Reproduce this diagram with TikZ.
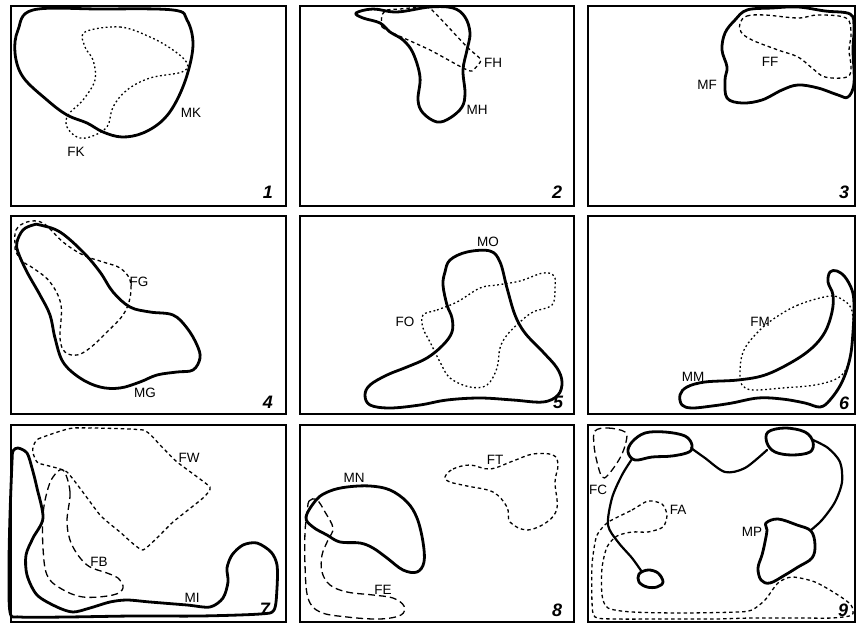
\documentclass[tikz,border=0pt]{standalone}
\usepackage{fontspec}
\setmainfont{Liberation Sans}
\begin{document}
\begin{tikzpicture}[x=1pt,y=-1pt,
  panel/.style={line width=1.3pt},
  male/.style={line width=2.8pt, line join=round, line cap=round},
  maleline/.style={line width=2.2pt, line cap=round},
  femdot/.style={line width=1.3pt, dash pattern=on 1.8pt off 2.6pt},
  femdash/.style={line width=1.3pt, dash pattern=on 3.5pt off 3pt},
  femlong/.style={line width=1.3pt, dash pattern=on 7pt off 4pt},
  lab/.style={font=\fontsize{13.5}{13.5}\selectfont, inner sep=0pt},
  num/.style={font=\fontsize{18}{18}\selectfont\bfseries\itshape, inner sep=0pt},
  sm/.style={smooth cycle, tension=0.6}]
\useasboundingbox (0,0) rectangle (858,628);
\fill[white] (0,0) rectangle (858,628);
% panels
\draw[panel] (11,6) rectangle (286,206);
\draw[panel] (300,6) rectangle (574,206);
\draw[panel] (588,6) rectangle (855,206);
\draw[panel] (11,216) rectangle (286,414);
\draw[panel] (300,216) rectangle (574,414);
\draw[panel] (588,216) rectangle (855,414);
\draw[panel] (11,425) rectangle (286,622);
\draw[panel] (300,425) rectangle (574,622);
\draw[panel] (588,425) rectangle (855,622);

% ---------- panel 1
\draw[male] plot[sm] coordinates {(33,10) (100,9) (173,10) (187,20) (193,43) (188,72) (177,100) (163,120) (143,133) (122,137) (103,132) (87,123) (67,115) (47,100) (23,77) (15,53) (18,30)};
\draw[femdot] plot[sm] coordinates {(85,32) (120,27) (150,37) (173,50) (187,63) (182,72) (150,78) (127,90) (113,107) (107,127) (90,137) (77,137) (67,127) (68,115) (83,100) (95,80) (93,60) (85,47)};
\node[lab] (MK) at (191,113) {MK};
\node[lab] (FK) at (76,152) {FK};
\node[num] (n1) at (268,192) {1};

% ---------- panel 2
\draw[male] plot[sm] coordinates {(356,13) (373,9) (397,12) (430,7) (453,8) (465,17) (470,33) (467,50) (463,70) (465,93) (462,107) (450,118) (437,122) (423,113) (418,100) (420,77) (413,53) (403,40) (390,32) (380,23) (363,18)};
\draw[femdash] plot[smooth cycle, tension=0.3] coordinates {(382,15) (382,27) (397,35) (430,50) (463,68) (472,71) (481,60) (467,47) (437,15) (427,7) (400,9) (387,10)};
\node[lab] (FH) at (493,63) {FH};
\node[lab] (MH) at (477,110) {MH};
\node[num] (n2) at (557,192) {2};

% ---------- panel 3
\draw[male] plot[sm] coordinates {(747,10) (772,8) (798,7) (825,11) (850,14) (854,27) (853,50) (854,83) (848,97) (838,95) (818,88) (798,85) (782,90) (762,100) (742,103) (727,98) (725,80) (727,67) (722,50) (725,33) (735,20)};
\draw[femdash] plot[sm] coordinates {(740,23) (747,16) (765,15) (798,18) (818,15) (846,18) (851,33) (849,50) (851,67) (847,77) (825,77) (812,68) (798,57) (778,50) (752,40) (741,32)};
\node[lab] (FF) at (770,62) {FF};
\node[lab] (MF) at (707,85) {MF};
\node[num] (n3) at (844,192) {3};

% ---------- panel 4
\draw[male] plot[sm] coordinates {(40,225) (60,232) (83,252) (100,272) (113,292) (130,307) (150,312) (173,315) (187,328) (197,345) (200,358) (193,370) (177,372) (157,375) (140,382) (120,388) (100,387) (80,378) (63,362) (55,338) (50,315) (40,295) (27,272) (18,252) (17,242) (23,230) (33,225)};
\draw[femdash] plot[sm] coordinates {(15,245) (16,230) (27,222) (43,223) (63,242) (83,255) (103,262) (120,268) (130,280) (130,298) (123,315) (107,332) (90,348) (77,355) (65,352) (60,338) (61,305) (50,282) (33,268) (23,262) (16,252)};
\node[lab] (FG) at (139,282) {FG};
\node[lab] (MG) at (145,393) {MG};
\node[num] (n4) at (268,402) {4};

% ---------- panel 5
\draw[male] plot[sm] coordinates {(450,260) (467,252) (490,251) (500,262) (507,288) (515,315) (525,333) (543,352) (557,368) (562,382) (558,395) (543,402) (513,400) (480,398) (447,400) (420,405) (390,408) (370,405) (365,395) (370,385) (387,375) (407,367) (427,358) (443,345) (452,332) (452,318) (447,305) (443,285) (445,272)};
\draw[femdot] plot[sm] coordinates {(423,315) (437,310) (457,302) (480,288) (497,285) (520,281) (543,273) (554,276) (555,288) (552,305) (533,312) (520,322) (507,335) (500,348) (497,368) (487,385) (470,387) (450,378) (440,362) (430,342) (423,328)};
\node[lab] (MO) at (488,242) {MO};
\node[lab] (FO) at (405,322) {FO};
\node[num] (n5) at (558,402) {5};

% ---------- panel 6
\draw[male] plot[sm] coordinates {(830,272) (837,271) (845,277) (852,290) (854,305) (853,332) (850,358) (842,382) (830,400) (820,407) (805,403) (782,399) (758,398) (732,403) (712,406) (692,408) (682,405) (680,395) (687,387) (705,382) (738,380) (765,375) (792,362) (812,348) (825,332) (832,312) (833,295) (828,282)};
\draw[femdot] plot[sm] coordinates {(830,296) (798,305) (772,320) (755,335) (743,352) (740,372) (742,385) (753,390) (782,388) (815,385) (838,378) (848,365) (852,345) (853,322) (851,308) (843,300)};
\node[lab] (FM) at (760,322) {FM};
\node[lab] (MM) at (693,377) {MM};
\node[num] (n6) at (844,403) {6};

% ---------- panel 7
\draw[male] plot[smooth cycle, tension=0.5] coordinates {(18,448) (13,451) (12,462) (10,515) (9,565) (10,612) (20,617) (67,617) (133,616) (200,616) (260,614) (274,610) (277,588) (277,565) (271,552) (257,543) (243,545) (232,555) (227,568) (228,582) (223,598) (210,607) (187,605) (150,602) (127,600) (110,602) (90,608) (73,612) (57,607) (37,595) (27,575) (26,555) (33,538) (43,518) (37,488) (32,468) (27,453)};
\draw[femdash] plot[smooth cycle, tension=0.25] coordinates {(33,447) (38,439) (73,428) (143,430) (160,445) (177,462) (210,487) (203,498) (173,522) (143,550) (120,532) (100,515) (67,472) (38,463) (33,453)};
\draw[femlong] plot[sm] coordinates {(63,470) (70,492) (67,522) (72,545) (87,565) (107,573) (118,578) (123,588) (113,595) (83,597) (60,588) (47,575) (43,548) (43,515) (47,492) (53,477)};
\node[lab] (FW) at (189,458) {FW};
\node[lab] (FB) at (99,562) {FB};
\node[lab] (MI) at (192,598) {MI};
\node[num] (n7) at (265,609) {7};

% ---------- panel 8
\draw[male] plot[sm] coordinates {(306,517) (317,499) (330,491) (347,487) (370,486) (390,490) (407,502) (417,518) (423,542) (424,562) (417,572) (403,570) (387,558) (373,548) (360,543) (340,542) (327,535) (313,527)};
\draw[femlong] plot[sm] coordinates {(307,515) (309,501) (317,500) (325,512) (333,528) (328,540) (322,555) (322,572) (330,585) (347,592) (373,595) (393,598) (404,606) (401,615) (380,619) (347,617) (320,612) (308,598) (305,565) (305,532)};
\draw[femdash] plot[sm] coordinates {(445,477) (453,469) (470,465) (490,469) (513,461) (533,454) (553,455) (558,465) (555,482) (557,508) (547,522) (527,530) (510,522) (507,507) (493,492) (467,486) (450,482)};
\node[lab] (MN) at (354,478) {MN};
\node[lab] (FE) at (383,590) {FE};
\node[lab] (FT) at (495,460) {FT};
\node[num] (n8) at (557,610) {8};

% ---------- panel 9
\draw[male] plot[sm] coordinates {(632,442) (645,433) (665,432) (685,436) (692,445) (689,452) (672,456) (652,457) (635,460) (628,452)};
\draw[male] plot[sm] coordinates {(768,432) (785,428) (805,432) (813,442) (810,452) (792,455) (775,452) (767,443)};
\draw[male] plot[sm] coordinates {(766,523) (778,519) (797,525) (811,531) (815,545) (812,558) (798,567) (785,575) (770,583) (761,580) (758,568) (762,555) (765,542) (767,530)};
\draw[male] plot[sm] coordinates {(639,574) (648,570) (658,573) (663,582) (657,587) (647,587) (639,582)};
\draw[maleline] plot[smooth] coordinates {(691,448) (705,458) (725,472) (745,468) (767,450)};
\draw[maleline] plot[smooth] coordinates {(813,440) (828,448) (840,462) (842,482) (835,502) (822,520) (811,530)};
\draw[maleline] plot[smooth] coordinates {(632,459) (622,475) (612,498) (608,525) (618,542) (632,558) (642,572)};
\draw[femlong] plot[sm] coordinates {(595,431) (608,428) (625,432) (626,442) (620,458) (608,475) (602,477) (597,462) (594,445)};
\draw[femdash] plot[smooth cycle, tension=0.45] coordinates {(610,521) (632,510) (648,501) (662,504) (667,515) (663,527) (648,532) (632,532) (617,536) (607,547) (602,568) (602,595) (608,608) (632,612) (682,613) (738,612) (752,610) (765,600) (778,583) (792,577) (815,582) (838,595) (851,605) (852,615) (832,618) (798,618) (752,618) (715,619) (665,619) (615,619) (595,617) (592,602) (592,565) (596,538) (602,528)};
\node[lab] (FC) at (598,490) {FC};
\node[lab] (FA) at (678,510) {FA};
\node[lab] (MP) at (752,532) {MP};
\node[num] (n9) at (843,610) {9};
\end{tikzpicture}
\end{document}
